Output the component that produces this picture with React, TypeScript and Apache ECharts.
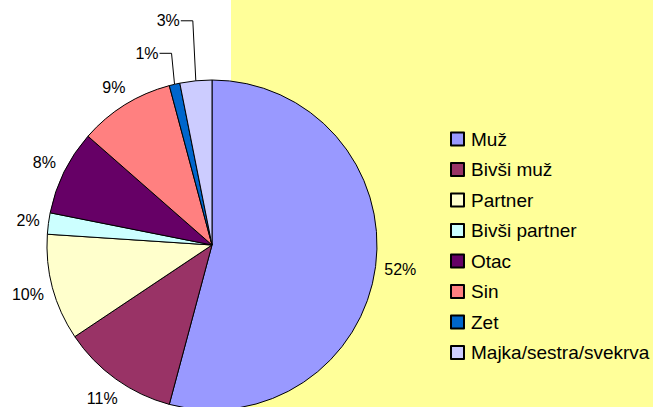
import React, { useEffect, useRef } from 'react';
import * as echarts from 'echarts';

const categories = ['Muž', 'Bivši muž', 'Partner', 'Bivši partner', 'Otac', 'Sin', 'Zet', 'Majka/sestra/svekrva'];
const values = [52, 11, 10, 2, 8, 9, 1, 3];
const colors = ['#9999FF', '#993366', '#FFFFCC', '#CCFFFF', '#660066', '#FF8080', '#0066CC', '#CCCCFF'];

const CX = 212;
const CY = 245;
const R = 165;
const GAP = 8;
// vertical lift of leader lines for the two small slices
const LEADER: Record<number, number> = { 6: 31, 7: 60 };

export default function App() {
  const ref = useRef<HTMLDivElement>(null);
  useEffect(() => {
    const chart = echarts.init(ref.current!, null, { renderer: 'svg' });
    const total = values.reduce((a, b) => a + b, 0);
    const cum: number[] = [];
    let s = 0;
    values.forEach((v) => {
      cum.push(s);
      s += v;
    });
    const dir = (i: number) => {
      const a = ((cum[i] + values[i] / 2) / total) * Math.PI * 2;
      return [Math.sin(a), -Math.cos(a)];
    };
    const font = 'Liberation Sans, Arial, sans-serif';
    chart.setOption({
      animation: false,
      backgroundColor: '#ffffff',
      graphic: [
        {
          type: 'rect',
          x: 231,
          y: 0,
          z: -1,
          shape: { width: 422, height: 407 },
          style: { fill: '#FFFF99' },
        },
      ],
      legend: {
        orient: 'vertical',
        left: 450,
        top: 129.5,
        padding: 0,
        icon: 'rect',
        itemWidth: 13,
        itemHeight: 13,
        itemGap: 11.5,
        selectedMode: false,
        textStyle: {
          fontSize: 19,
          lineHeight: 19,
          fontFamily: font,
          color: '#000',
          padding: [0, 0, 0, 2],
        },
        data: categories,
      },
      series: [
        {
          type: 'pie',
          center: [CX, CY],
          radius: R,
          startAngle: 90,
          clockwise: true,
          avoidLabelOverlap: false,
          emphasis: { disabled: true },
          itemStyle: { borderColor: '#000', borderWidth: 1 },
          label: {
            show: true,
            position: 'outside',
            formatter: '{c}%',
            fontSize: 16,
            fontFamily: font,
            color: '#000',
          },
          labelLine: { show: false },
          labelLayout: (p: any) => {
            const i = p.dataIndex;
            const [nx, ny] = dir(i);
            const w = p.labelRect.width;
            const h = p.labelRect.height;
            if (LEADER[i] != null) {
              const x1 = CX + nx * R;
              const y1 = CY + ny * R;
              const x2 = x1 - 3;
              const y2 = y1 - LEADER[i];
              const x3 = x2 - 12;
              return {
                x: x3 - 1,
                y: y2,
                align: 'right',
                verticalAlign: 'middle',
                labelLinePoints: [
                  [x1, y1],
                  [x2, y2],
                  [x3, y2],
                ],
              };
            }
            const d = R + GAP + (w / 2) * Math.abs(nx) + (h / 2) * Math.abs(ny);
            return { x: CX + nx * d, y: CY + ny * d, align: 'center', verticalAlign: 'middle' };
          },
          data: categories.map((name, i) => ({
            name,
            value: values[i],
            itemStyle: { color: colors[i] },
            labelLine:
              LEADER[i] != null
                ? { show: true, smooth: false, lineStyle: { color: '#000', width: 1 } }
                : { show: false },
          })),
        },
      ],
    });
    return () => chart.dispose();
  }, []);
  return (
    <div
      ref={ref}
      style={{ position: 'absolute', left: 0, top: 0, width: 653, height: 407 }}
    />
  );
}
